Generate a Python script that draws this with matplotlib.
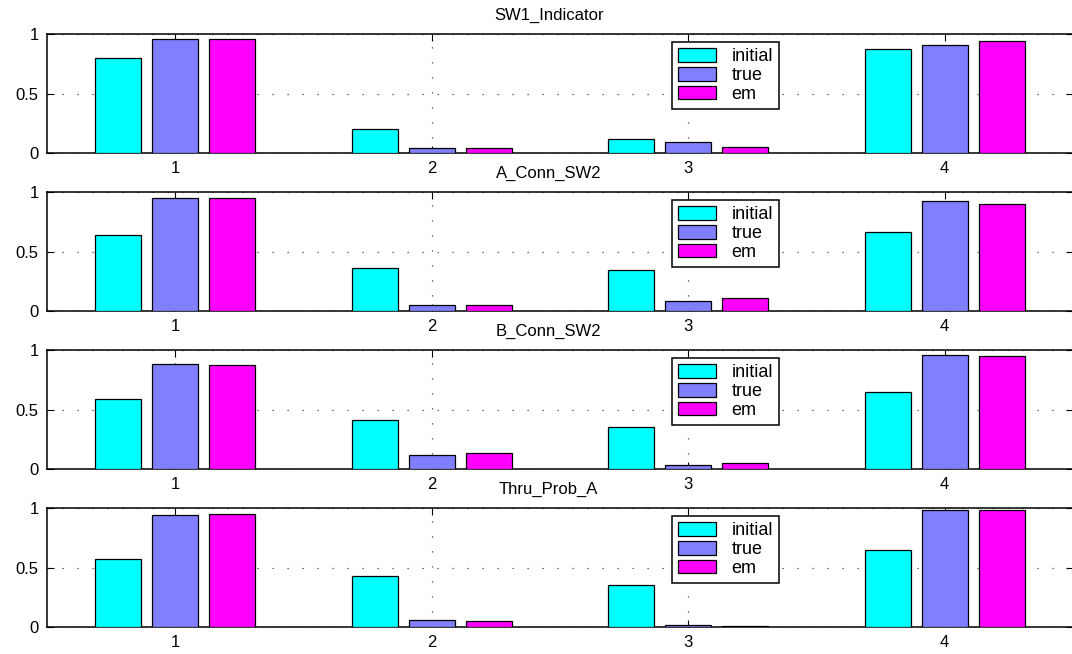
import numpy as np
import matplotlib
matplotlib.use("Agg")
import matplotlib.pyplot as plt

plt.rcParams['font.family'] = ['Liberation Sans', 'DejaVu Sans']

# === data ===
groups = [1, 2, 3, 4]
titles = ["SW1_Indicator", "A_Conn_SW2", "B_Conn_SW2", "Thru_Prob_A"]
series_names = ["initial", "true", "em"]
colors = ["#00FFFF", "#8080FF", "#FF00FF"]

sw1_initial = [0.80, 0.20, 0.12, 0.875]
sw1_true = [0.955, 0.04, 0.09, 0.905]
sw1_em = [0.955, 0.04, 0.05, 0.94]

aconn_initial = [0.637, 0.36, 0.343, 0.662]
aconn_true = [0.947, 0.053, 0.081, 0.925]
aconn_em = [0.947, 0.053, 0.112, 0.896]

bconn_initial = [0.588, 0.412, 0.351, 0.649]
bconn_true = [0.88, 0.117, 0.037, 0.96]
bconn_em = [0.872, 0.131, 0.05, 0.95]

thru_initial = [0.571, 0.43, 0.35, 0.65]
thru_true = [0.944, 0.06, 0.017, 0.983]
thru_em = [0.95, 0.05, 0.01, 0.985]

panels = [
    [sw1_initial, sw1_true, sw1_em],
    [aconn_initial, aconn_true, aconn_em],
    [bconn_initial, bconn_true, bconn_em],
    [thru_initial, thru_true, thru_em],
]

# === figure ===
W, H = 1072, 654
fig = plt.figure(figsize=(W / 100, H / 100), dpi=100)

left_px, right_px = 47, 1073
top0, bot0, step = 34, 153, 158
offsets = [-0.222, 0.0, 0.222]
bar_w = 0.178

for i, (title, data) in enumerate(zip(titles, panels)):
    top = top0 + step * i
    bot = bot0 + step * i
    ax = fig.add_axes([left_px / W, 1 - bot / H, (right_px - left_px) / W, (bot - top) / H])
    x = np.array(groups, dtype=float)
    for vals, off, c, name in zip(data, offsets, colors, series_names):
        ax.bar(x + off, vals, width=bar_w, color=c, edgecolor="black",
               linewidth=0.9, label=name, zorder=3)
    ax.set_xlim(0.5, 4.5)
    ax.set_ylim(0, 1)
    ax.set_xticks(groups)
    ax.set_yticks([0, 0.5, 1])
    ax.set_yticklabels(["0", "0.5", "1"])
    ax.grid(True, linestyle=(0, (1, 11)), color="#444444", linewidth=0.9, zorder=0)
    ax.tick_params(direction="in", top=True, right=True, length=5, labelsize=12, pad=6)
    for s in ax.spines.values():
        s.set_linewidth(1.1)
    ax.set_title(title, fontsize=12, pad=10, x=0.489)
    leg = ax.legend(loc="upper left", bbox_to_anchor=(0.609, 0.935), fontsize=13,
                    frameon=True, fancybox=False, edgecolor="black", framealpha=1,
                    handlelength=2.1, handleheight=0.78, labelspacing=0.1,
                    handletextpad=0.85, borderpad=0.35, borderaxespad=0)
    leg.get_frame().set_linewidth(1.1)
    leg.set_zorder(5)

plt.savefig("out.png", dpi=100)
